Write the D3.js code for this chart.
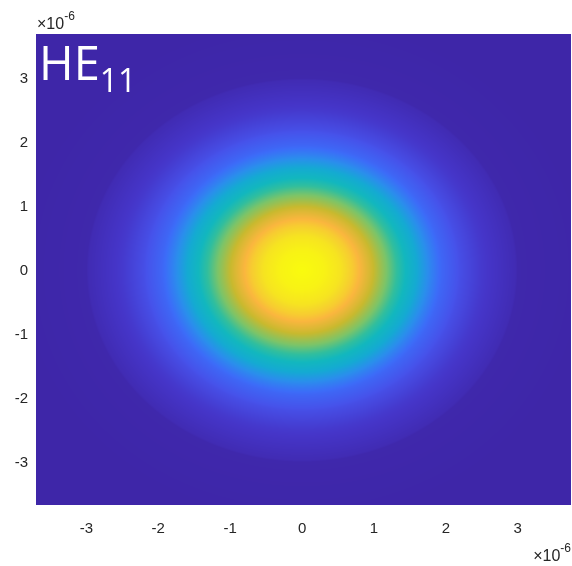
<!DOCTYPE html>
<html>
<head>
<meta charset="utf-8">
<script src="https://cdn.jsdelivr.net/npm/d3@7"></script>
<style>
  body { margin: 0; background: #fff; }
  #chart { position: relative; width: 572px; height: 566px; }
  #chart canvas, #chart svg { position: absolute; left: 0; top: 0; }
</style>
</head>
<body>
<div id="chart"></div>
<script>
// radial profile of the mode (radius in um, normalized field)
const profileRadius = [0, 0.3, 0.53, 0.7, 0.8, 0.94, 1.1, 1.3, 1.5, 1.65, 1.8, 1.95, 2.2, 2.5, 2.8, 2.97, 3.0, 4.0];
const profileValue  = [1, 0.975, 0.93, 0.86, 0.80, 0.73, 0.64, 0.53, 0.43, 0.35, 0.27, 0.20, 0.13, 0.08, 0.045, 0.025, 0.008, 0];

const xTicks = [-3, -2, -1, 0, 1, 2, 3];
const yTicks = [-3, -2, -1, 0, 1, 2, 3];
const xExtent = [-3.7, 3.74];
const yExtent = [-3.67, 3.69];

// parula-like colormap
const cmapStops  = [0, 0.07, 0.14, 0.22, 0.30, 0.38, 0.46, 0.52, 0.60, 0.70, 0.80, 0.90, 1];
const cmapColors = ['#3E26A8', '#4535C8', '#4652EA', '#3C6CF8', '#2A8EEC', '#14AAD2', '#12B7BE',
                    '#30BE9E', '#7CC468', '#C8B92E', '#FAB63E', '#F5DA28', '#F9FB0E'];

const width = 572, height = 566;
const margin = {top: 34, right: 1, bottom: 61, left: 36};
const plotW = width - margin.left - margin.right;
const plotH = height - margin.top - margin.bottom;

const x = d3.scaleLinear().domain(xExtent).range([margin.left, margin.left + plotW]);
const y = d3.scaleLinear().domain(yExtent).range([margin.top + plotH, margin.top]);
const profile = d3.scaleLinear().domain(profileRadius).range(profileValue).clamp(true);
const color = d3.scaleLinear().domain(cmapStops).range(cmapColors).interpolate(d3.interpolateRgb);

const container = d3.select('#chart');

const canvas = container.append('canvas')
    .attr('width', width)
    .attr('height', height);
const ctx = canvas.node().getContext('2d');
const img = ctx.createImageData(plotW, plotH);
for (let j = 0; j < plotH; j++) {
    const yv = y.invert(margin.top + j + 0.5);
    for (let i = 0; i < plotW; i++) {
        const xv = x.invert(margin.left + i + 0.5);
        const c = d3.rgb(color(profile(Math.hypot(xv, yv))));
        const k = (j * plotW + i) * 4;
        img.data[k] = c.r; img.data[k + 1] = c.g; img.data[k + 2] = c.b; img.data[k + 3] = 255;
    }
}
ctx.putImageData(img, margin.left, margin.top);

const svg = container.append('svg')
    .attr('width', width)
    .attr('height', height)
    .style('font-family', '"Liberation Sans", Arial, sans-serif');

const tickColor = '#262626';

svg.append('g').selectAll('text')
    .data(xTicks)
    .enter()
    .append('text')
    .attr('x', d => x(d))
    .attr('y', margin.top + plotH + 28)
    .attr('text-anchor', 'middle')
    .attr('fill', tickColor)
    .style('font-size', '15px')
    .text(d => d);

svg.append('g').selectAll('text')
    .data(yTicks)
    .enter()
    .append('text')
    .attr('x', margin.left - 8)
    .attr('y', d => y(d) + 5)
    .attr('text-anchor', 'end')
    .attr('fill', tickColor)
    .style('font-size', '15px')
    .text(d => d);

function exponent(xPos, yPos, anchor) {
    const t = svg.append('text')
        .attr('x', xPos)
        .attr('y', yPos)
        .attr('text-anchor', anchor)
        .attr('fill', tickColor)
        .style('font-size', '16px');
    t.append('tspan').text('\u00d710');
    t.append('tspan').attr('dy', -9).style('font-size', '12px').text('-6');
}
exponent(37, 29, 'start');
exponent(571, 561, 'end');

const title = svg.append('text')
    .attr('x', 39)
    .attr('y', 80)
    .attr('fill', '#fff')
    .style('font-family', '"Open Sans", "Noto Sans", sans-serif')
    .style('font-size', '47px');
title.append('tspan').text('HE');
title.append('tspan').attr('dy', 12).style('font-size', '32px').text('11');
</script>
</body>
</html>
